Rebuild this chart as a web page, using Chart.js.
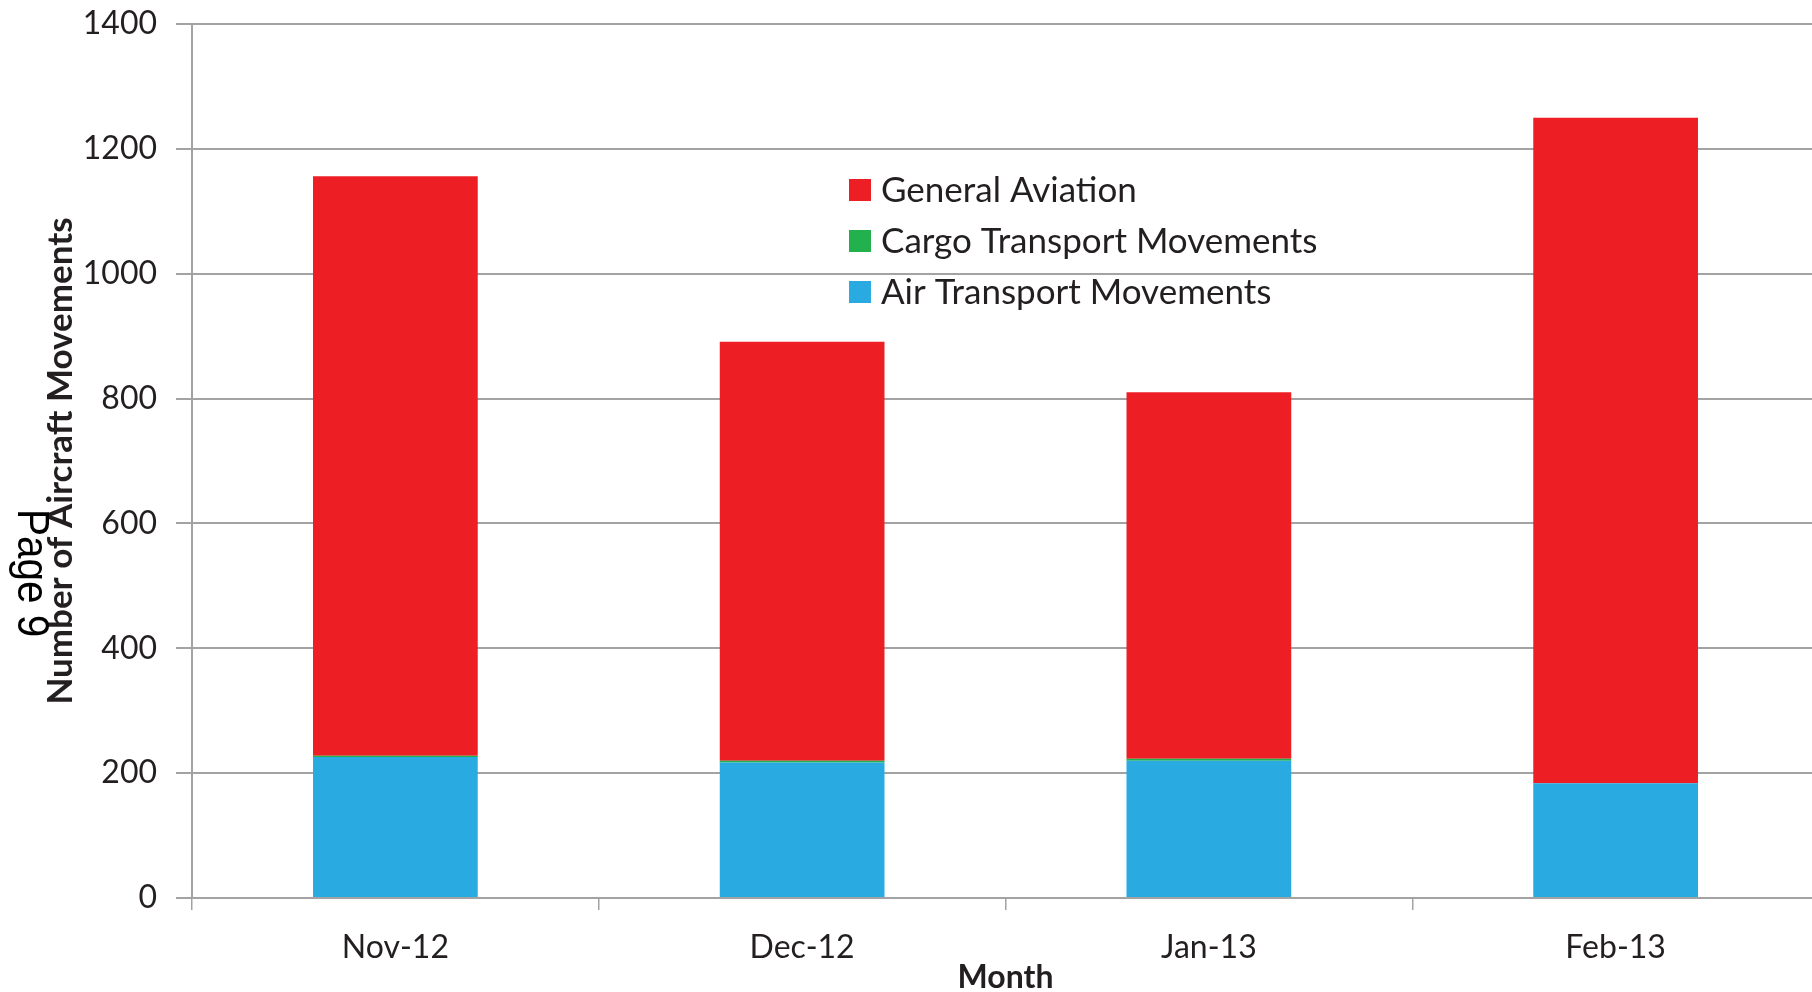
<!DOCTYPE html>
<html>
<head>
<meta charset="utf-8">
<script src="https://cdn.jsdelivr.net/npm/chart.js@4.4.1/dist/chart.umd.min.js"></script>
<style>
  html, body { margin: 0; padding: 0; background: #fff; overflow: hidden; }
  /* plot runs a few px past the right edge in the source */
  #wrap { width: 1819px; height: 992px; position: relative; }
</style>
</head>
<body>
<div id="wrap"><canvas id="chart"></canvas></div>
<script>
const months = ['Nov-12', 'Dec-12', 'Jan-13', 'Feb-13'];
const airTransport = [226, 217, 220, 184];
const cargoTransport = [2, 3, 3, 0];
const generalAviation = [928, 671, 587, 1066];
const yTicks = [0, 200, 400, 600, 800, 1000, 1200, 1400];

const textColor = '#231f20';
const gridColor = '#a3a3a3';
const fontFamily = 'Lato, "Open Sans", sans-serif';

// legend drawn inside the plot, top item = last dataset
const insideLegend = {
  id: 'insideLegend',
  afterDraw(chart) {
    const ctx = chart.ctx;
    const items = chart.data.datasets.slice().reverse();
    ctx.save();
    ctx.font = `35px ${fontFamily}`;
    ctx.textBaseline = 'middle';
    ctx.textAlign = 'left';
    items.forEach((ds, i) => {
      const cy = 190 + i * 51;
      ctx.fillStyle = ds.backgroundColor;
      ctx.fillRect(849, cy - 11, 22, 22);
      ctx.fillStyle = textColor;
      ctx.fillText(ds.label, 881, cy + 1);
    });
    ctx.restore();
  }
};

// stray page marker that sits over the axis title in the source
const pageMark = {
  id: 'pageMark',
  afterDraw(chart) {
    const ctx = chart.ctx;
    ctx.save();
    ctx.translate(18, 509);
    ctx.rotate(Math.PI / 2);
    ctx.scale(0.9, 1);
    ctx.font = '45px "Liberation Sans", Arial, sans-serif';
    ctx.fillStyle = '#000';
    ctx.textBaseline = 'alphabetic';
    ctx.textAlign = 'left';
    ctx.fillText('Page 9', 0, 0);
    ctx.restore();
  }
};

new Chart(document.getElementById('chart'), {
  type: 'bar',
  data: {
    labels: months,
    datasets: [
      { label: 'Air Transport Movements', data: airTransport, backgroundColor: '#29abe2' },
      { label: 'Cargo Transport Movements', data: cargoTransport, backgroundColor: '#22b14c' },
      { label: 'General Aviation', data: generalAviation, backgroundColor: '#ed1f24' }
    ]
  },
  options: {
    responsive: true,
    maintainAspectRatio: false,
    animation: false,
    layout: { padding: { top: 24, right: 0, left: 0, bottom: 0 } },
    datasets: { bar: { categoryPercentage: 1, barPercentage: 0.405, borderWidth: 0 } },
    plugins: {
      legend: { display: false },
      tooltip: { enabled: false }
    },
    scales: {
      x: {
        stacked: true,
        grid: {
          offset: true,
          drawOnChartArea: false,
          drawTicks: true,
          tickLength: 12,
          color: gridColor,
          lineWidth: 1.5
        },
        border: { display: true, color: gridColor, width: 2 },
        ticks: { color: textColor, font: { family: fontFamily, size: 32 }, padding: 18 },
        title: {
          display: true,
          text: 'Month',
          color: textColor,
          font: { family: fontFamily, size: 32, weight: 'bold', lineHeight: 0.9 },
          padding: { top: 0, bottom: 0 }
        },
        afterFit(scale) {
          scale.height = 94;
          scale.paddingLeft = 0;
          scale.paddingRight = 0;
        }
      },
      y: {
        stacked: true,
        min: 0,
        max: 1400,
        afterBuildTicks(scale) { scale.ticks = yTicks.map(v => ({ value: v })); },
        grid: { color: gridColor, lineWidth: 2, tickLength: 16 },
        border: { display: true, color: gridColor, width: 2 },
        ticks: {
          color: textColor,
          font: { family: fontFamily, size: 32 },
          padding: 19,
          callback: value => String(value)
        },
        title: {
          display: true,
          text: 'Number of Aircraft Movements',
          color: textColor,
          font: { family: fontFamily, size: 35, weight: 'bold', lineHeight: 1.2 },
          padding: { top: 40, bottom: 0 }
        },
        afterFit(scale) {
          scale.width = 192;
          scale.paddingTop = 0;
          scale.paddingBottom = 0;
        }
      }
    }
  },
  plugins: [insideLegend, pageMark]
});
</script>
</body>
</html>
